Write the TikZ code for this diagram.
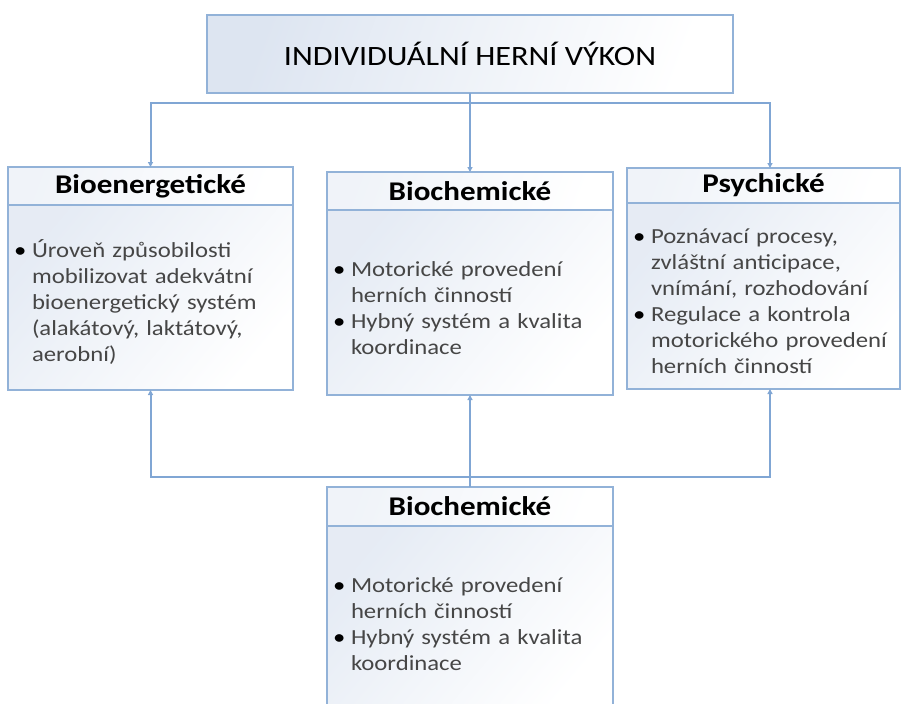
\documentclass[tikz,border=0pt]{standalone}
\usepackage{fontspec}
\setmainfont{Carlito}[FakeStretch=1.15]
\usepackage{xcolor}
\usetikzlibrary{arrows.meta,positioning}
\definecolor{boxline}{RGB}{146,178,216}
\definecolor{connline}{RGB}{128,166,212}
\definecolor{boxfill}{RGB}{221,229,241}
\definecolor{bodytext}{RGB}{70,70,70}
\newcommand{\bitem}{\par\noindent\hangindent=18pt\hangafter=1\makebox[18pt][l]{\textcolor{black}{\textbullet}}}
\tikzset{
    box line/.style={draw=boxline,line width=2pt,outer sep=0pt},
    title box/.style={box line,rectangle,minimum width=526pt,minimum height=78pt,inner sep=0pt,
        left color=boxfill,right color=white,shading angle=70,font=\fontsize{28}{32}\selectfont},
    head box/.style={box line,rectangle,minimum width=#1,minimum height=38pt,inner sep=0pt,
        left color=boxfill!45,right color=white,shading angle=70,font=\fontsize{27}{30}\selectfont\bfseries},
    body box/.style={box line,rectangle,text width=#1,minimum height=185pt,inner xsep=6pt,inner ysep=0pt,
        align=left,left color=boxfill!75,right color=white,shading angle=50,text=bodytext,
        font=\fontsize{21.5}{26}\selectfont},
    conn/.style={draw=connline,line width=2pt},
    arr/.style={conn,-{Triangle[length=5pt,width=5pt]}},
}

\begin{document}
\begin{tikzpicture}[x=1pt,y=-1pt]
    \useasboundingbox (0,0) rectangle (903,704);

    % top
    \node[title box] (vykon) at (470,54) {INDIVIDUÁLNÍ HERNÍ VÝKON};

    % left
    \node[head box=285pt,anchor=north west] (bioenHead) at (8,167) {Bioenergetické};
    \node[body box=273pt,below=0pt of bioenHead] (bioenBody) {%
        \bitem Úroveň způsobilosti\newline mobilizovat adekvátní\newline bioenergetický systém\newline (alakátový, laktátový,\newline aerobní)\par};

    % middle
    \node[head box=286pt,anchor=north west] (biochHead) at (327,172) {Biochemické};
    \node[body box=274pt,below=0pt of biochHead] (biochBody) {%
        \bitem Motorické provedení\newline herních činností
        \bitem Hybný systém a kvalita\newline koordinace\par};

    % right
    \node[head box=273pt,minimum height=35pt,anchor=north west] (psyHead) at (627,168) {Psychické};
    \node[body box=261pt,minimum height=186pt,below=0pt of psyHead] (psyBody) {%
        \bitem Poznávací procesy,\newline zvláštní anticipace,\newline vnímání, rozhodování
        \bitem Regulace a kontrola\newline motorického provedení\newline herních činností\par};

    % bottom
    \node[head box=286pt,minimum height=39pt,anchor=north west] (biochBHead) at (327,487) {Biochemické};
    \node[body box=274pt,below=0pt of biochBHead] (biochBBody) {%
        \bitem Motorické provedení\newline herních činností
        \bitem Hybný systém a kvalita\newline koordinace\par};

    % connectors
    \coordinate (busTop) at (470,103);
    \coordinate (busBot) at (470,477);
    \draw[conn] (vykon.south) -- (busTop);
    \draw[arr] (busTop) -| (bioenHead.north);
    \draw[arr] (busTop) -- (biochHead.north);
    \draw[arr] (busTop) -| ([xshift=6.5pt]psyHead.north);
    \draw[arr] (biochBHead.north) -- (biochBody.south);
    \draw[arr] (busBot) -| (bioenBody.south);
    \draw[arr] (busBot) -| ([xshift=6.5pt]psyBody.south);
\end{tikzpicture}
\end{document}
